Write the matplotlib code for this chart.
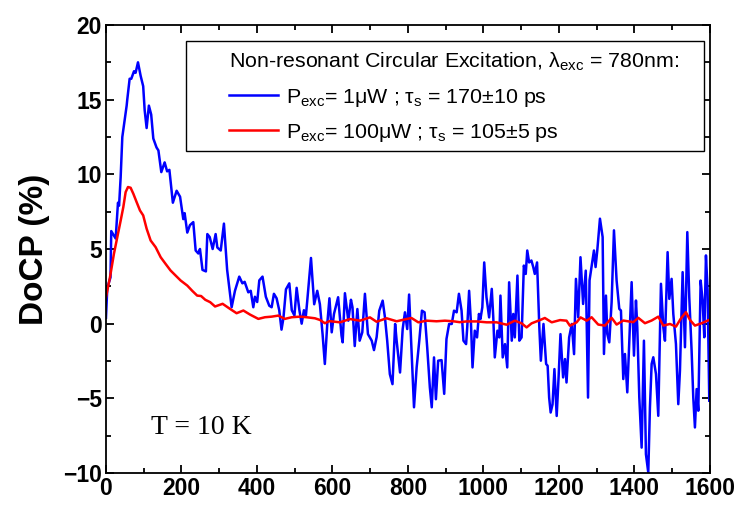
import numpy as np
import matplotlib
matplotlib.use("Agg")
import matplotlib.pyplot as plt
from matplotlib.patches import Rectangle

plt.rcParams['font.family'] = ['Liberation Sans', 'DejaVu Sans']
plt.rcParams['mathtext.default'] = 'regular'

# Time delay (ps) and DoCP (%)
t_low = [0, 3.5, 12, 14, 25.7, 31.8, 34.7, 38.9, 43.3, 47.7, 54.8, 56.4, 62.7, 67.1,
         74.2, 78.5, 84.8, 91.8, 98.6, 102.5, 107.7, 113.7, 119.8, 125.4, 133.9, 138.9,
         146.6, 155.4, 162, 168, 177.2, 187.2, 196.3, 204.8, 208.4, 215.4, 222.5, 231.3,
         237.6, 244.6, 249, 255.7, 264.7, 268.5, 274.8, 282.6, 290.5, 295, 304, 312.5,
         321, 332.9, 341.7, 353.1, 361.4, 367.4, 377, 383.5, 390.3, 394.6, 400.6, 406.2,
         414.7, 423.5, 432.6, 438.9, 444.9, 452, 459, 465, 470, 476.8, 485.7, 492.2,
         499.3, 505.1, 512.4, 518.4, 524.4, 529.5, 533.1, 543.1, 551.6, 559.7, 566.7,
         573.8, 579.8, 586.3, 592, 598, 604, 615, 624, 627, 633, 642, 649, 653, 659, 666,
         672, 679, 686, 694, 704, 710, 717, 724, 733, 739, 745, 752, 759, 766, 770, 779,
         786, 792, 798, 803, 809, 816, 823, 830, 837, 844, 851, 858, 863, 869, 874, 880,
         889, 896, 902, 909, 916, 922, 929, 935, 942, 947, 954, 957, 962, 967, 971, 977,
         983, 988, 992, 997, 1002, 1008, 1015, 1022, 1026, 1030, 1037, 1042, 1045, 1051,
         1057, 1063, 1068, 1075, 1079, 1083, 1090, 1095, 1101, 1107, 1112, 1116, 1121,
         1127, 1132, 1136, 1142, 1148, 1152, 1159, 1166, 1170, 1174, 1178, 1183, 1188,
         1194, 1199, 1204, 1211, 1216, 1220, 1227, 1234, 1240, 1245, 1251, 1257, 1264,
         1271, 1277, 1281, 1292.7, 1297, 1301.5, 1308.6, 1315.7, 1319.2, 1324.5, 1328,
         1333.3, 1339.5, 1345.7, 1352.7, 1359.8, 1364.2, 1370.4, 1374.8, 1381, 1386.3,
         1392.5, 1398.7, 1404, 1407.5, 1412.8, 1419, 1425.1, 1430.4, 1436.6, 1441,
         1445.5, 1449.9, 1457, 1463.1, 1470.2, 1476.4, 1480.8, 1487.8, 1492.3, 1498.4,
         1502.9, 1509.9, 1516.1, 1520.5, 1527.6, 1533.8, 1540, 1545.2, 1551.4, 1555.8,
         1560.2, 1564.7, 1569.1, 1575.3, 1580.5, 1585, 1589.4, 1593.8, 1598.2]
docp_low = [0.4, 2.4, 3.1, 6.2, 5.7, 8.1, 7.9, 9.8, 12.5, 13.3, 14.6, 15.0, 16.4, 16.4,
            16.9, 16.8, 17.5, 16.6, 15.9, 14.3, 13.1, 14.6, 14.0, 12.4, 11.8, 11.6,
            10.15, 10.8, 10.2, 10.3, 8.1, 8.9, 8.5, 7.0, 7.4, 6.1, 6.6, 6.8,
            4.9, 4.7, 5.0, 3.6, 3.5, 6.0, 5.8, 5.0, 6.0, 5.1, 4.9, 6.7,
            3.6, 1.1, 2.2, 3.15, 2.7, 2.8, 2.1, 2.2, 1.1, 1.8, 1.45, 2.9,
            3.15, 1.8, 1.2, 1.1, 2.0, 1.7, 0.9, -0.4, 0.35, 2.3, 2.7, 0.9,
            0.55, 2.4, 0.9, 0.0, 0.9, 0.5, 1.5, 4.4, 1.3, 2.2, 1.3,
            -0.7, -2.7, 0.0, 1.7, -0.58, 0.65, 1.77, -0.8, -1.25, 2.04, 0.2, 1.6, 1.1, -1.5, 0.98,
            -1.14, -0.58, 2.0, -0.7, -1.14, -1.77, -0.9, 0.87, 1.54, 0.43, -1.14, -3.38, -4.05, -0.02, -1.14, -3.27,
            -0.36, 0.76, -0.36, 1.95, -1.6, -5.6, -2.93, -1.14, 0.87, 0.76, -1.6, -4.27, -5.6, -2.26, -5.06, -2.48,
            -2.44, -4.7, -1.03, -0.02, -0.02, 0.87, 0.76, 2.0, 0.87, -1.14, -1.37, -0.25, 2.2, -0.02, -2.93, -0.47,
            -0.92, 0.65, 0.31, 1.1, 4.1, 1.77, 0.42, 2.33, 0.42, -2.26, -0.47, -0.92, 1.88, -2.26,
            -1.37, -2.93, 2.77, -1.14, 0.65, -0.92, 3.22, -1.14, -0.92, 3.89, 3.33, 4.9, 4.1,
            4.23, 3.78, 3.33, 4.1, -0.25, -2.48, -0.02, -2.7, -2.82, -4.95, -5.95, -5.4, -3.04,
            -6.18, -3.6, -0.7, -3.6, -2.37, -3.94, -0.92, -0.02, -2.04, 3.0, 0.42, 4.45, 1.32,
            3.55, -4.95, 2.9, 4.9, 3.79, 4.9, 7.03, 5.8, -2.03, 1.88, -0.69,
            -1.25, 1.44, 6.25, 2.89, 0.99, 0.88, -3.71, -2.03, -4.6, -1.25,
            2.78, -2.14, 1.55, -0.24, -4.94, -8.3, -1.14, -8.74, -9.97, -5.6,
            -2.7, -2.25, -3.37, -6.17, 2.67, -0.24, -1.14, 4.79, 1.66, 3.0,
            0.65, -1.36, -5.39, -3.15, 3.45, -1.58, 6.13, 1.77, -1.81, -4.94,
            -6.95, -4.38, -5.83, 2.89, 1.55, -0.91, 4.57, 2.22, -5.16]

t_high = [0, 10.6, 21.1, 30, 38.9, 45.9, 52.1, 58.3, 65.3, 72.5, 81.2, 90.1, 98.6, 107.7,
          118.3, 131.6, 144.9, 158, 171.1, 184.6, 197.8, 215.4, 228.5, 241.6, 252, 263,
          276, 289, 309, 328.6, 346, 364, 381.5, 403.6, 421, 439, 456.5, 474, 492, 514,
          531.5, 553.6, 566.7, 580, 592, 620, 646, 672.8, 699.4, 716.7, 743.5, 770, 796,
          809.3, 827.4, 849.6, 875.7, 898, 920, 937, 955.3, 981.9, 1008.6, 1034.8, 1061.4,
          1083, 1101.2, 1114.3, 1127.4, 1149.5, 1162.6, 1180.8, 1202.9, 1220, 1229, 1246.8,
          1257.2, 1273.4, 1286.5, 1304, 1321.8, 1339.5, 1352.7, 1370.4, 1396.9, 1410.1,
          1427.8, 1445.5, 1463.1, 1476.4, 1494, 1509.9, 1522.3, 1536.4, 1547, 1560.2,
          1577.9, 1598.2]
docp_high = [1.77, 3.1, 4.68, 5.79, 6.9, 7.8, 8.81, 9.15, 9.1, 8.7, 8.14, 7.58, 7.25, 6.36,
             5.57, 5.12, 4.45, 4.0, 3.56, 3.22, 2.89, 2.55, 2.2, 1.88, 1.85, 1.6,
             1.44, 1.15, 1.33, 0.99, 0.7, 0.88, 0.61, 0.32, 0.43, 0.47, 0.54, 0.32, 0.43, 0.47,
             0.43, 0.36, 0.25, 0.03, 0.17, 0.09, 0.31, 0.2, 0.42, 0.13, 0.36, 0.16, 0.31,
             0.38, 0.09, 0.2, 0.16, 0.2, 0.16, 0.1, 0.15, 0.15, 0.09, 0.09, -0.07,
             0.2, 0.02, -0.25, 0.02, 0.24, 0.38, 0.09, 0.24, 0.2, -0.14, 0.09,
             0.42, 0.2, 0.43, -0.06, -0.13, 0.39, -0.06, 0.21, 0.1, 0.39,
             0.03, 0.21, 0.47, -0.13, -0.02, -0.2, 0.32, 0.77, 0.25, -0.13,
             0.03, 0.25]

label_low = r"P$_{exc}$= 1μW ; τ$_{s}$ = 170±10 ps"
label_high = r"P$_{exc}$= 100μW ; τ$_{s}$ = 105±5 ps"
legend_title = r"Non-resonant Circular Excitation, λ$_{exc}$ = 780nm:"

fig = plt.figure(figsize=(7.4, 5.08), dpi=100)
ax = fig.add_axes([0.1432, 0.0689, 0.8162, 0.8819])

ax.plot(t_low, docp_low, color='#0000ff', lw=1.8, label=label_low)
ax.plot(t_high, docp_high, color='#ff0000', lw=1.8, label=label_high)

ax.set_xlim(0, 1600)
ax.set_ylim(-10, 20)
ax.set_xticks(np.arange(0, 1601, 200))
ax.set_xticks(np.arange(100, 1600, 200), minor=True)
ax.set_yticks(np.arange(-10, 21, 5))
ax.set_yticks(np.arange(-7.5, 20, 5), minor=True)
ax.tick_params(which='both', direction='in', top=True, right=True, width=1.3)
ax.tick_params(which='major', length=6, labelsize=16.5, pad=3)
ax.tick_params(which='minor', length=3.5)
for lab in ax.get_xticklabels() + ax.get_yticklabels():
    lab.set_fontweight('bold')
for sp in ax.spines.values():
    sp.set_linewidth(1.3)

ax.set_ylabel("DoCP (%)", fontsize=24, fontweight='bold', labelpad=9)

ax.text(119, -7.4, "T = 10 K", family=['Liberation Serif'], fontsize=20, va='baseline')

# legend box (drawn separately, wider on the left like the original)
ax.add_patch(Rectangle((0.1325, 0.718), 0.8575, 0.246, transform=ax.transAxes,
                       fill=True, facecolor='white', edgecolor='black', lw=1.0, zorder=4))
leg = ax.legend(loc='upper left', bbox_to_anchor=(0.2036, 0.942), fontsize=15.4,
                title=legend_title, title_fontsize=15.4, alignment='left',
                frameon=False, handlelength=2.3, handletextpad=0.35,
                labelspacing=0.62, borderpad=0, borderaxespad=0)
leg.set_zorder(5)

fig.savefig("out.png", dpi=100)
